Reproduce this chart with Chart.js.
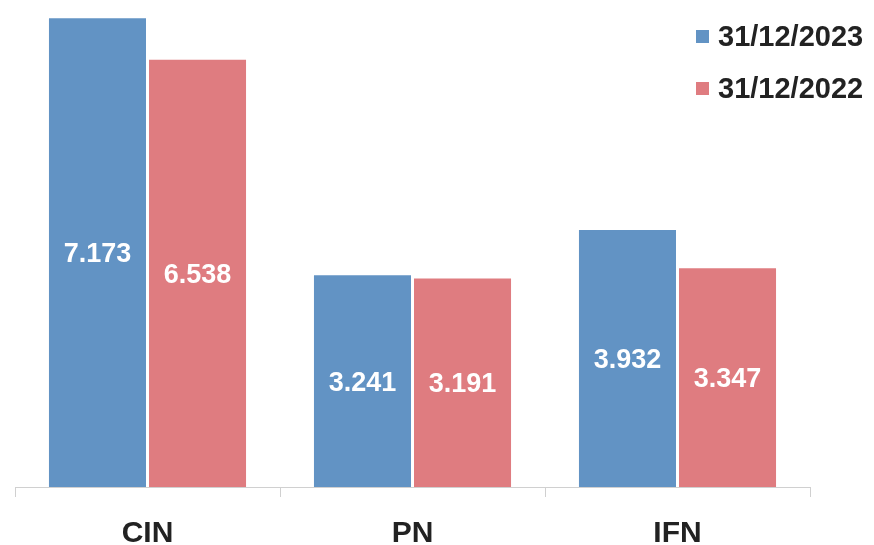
<!DOCTYPE html>
<html>
<head>
<meta charset="UTF-8">
<title>CIN PN IFN</title>
<script src="https://cdn.jsdelivr.net/npm/chart.js"></script>
<style>
  html, body { margin: 0; padding: 0; background: #fff; }
  .wrap { position: relative; width: 874px; height: 545px; }
  #legend { position: absolute; left: 696px; top: 10px; font-family: "Liberation Sans", Arial, sans-serif; font-weight: bold; font-size: 29px; color: #222; }
  #legend .item { display: flex; align-items: center; height: 52px; }
  #legend .box { width: 13px; height: 13px; margin-right: 9px; }
</style>
</head>
<body>
<div class="wrap">
  <canvas id="chart" width="874" height="545"></canvas>
  <div id="legend"></div>
</div>
<script>
const categories = ['CIN', 'PN', 'IFN'];
const seriesLabels = ['31/12/2023', '31/12/2022'];
const values2023 = [7.173, 3.241, 3.932];
const values2022 = [6.538, 3.191, 3.347];
const colors = ['#6293c4', '#df7c80'];

// white value labels in the middle of each bar
const midLabels = {
  id: 'midLabels',
  afterDatasetsDraw(chart) {
    const ctx = chart.ctx;
    ctx.save();
    ctx.fillStyle = '#fff';
    ctx.font = 'bold 27px "Liberation Sans", Arial, sans-serif';
    ctx.textAlign = 'center';
    ctx.textBaseline = 'middle';
    chart.data.datasets.forEach((ds, i) => {
      chart.getDatasetMeta(i).data.forEach((bar, j) => {
        ctx.fillText(ds.data[j].toFixed(3), bar.x, (bar.y + bar.base) / 2 + 2);
      });
    });
    ctx.restore();
  }
};

const chart = new Chart(document.getElementById('chart'), {
  type: 'bar',
  data: {
    labels: categories,
    datasets: [
      { label: seriesLabels[0], data: values2023, backgroundColor: colors[0] },
      { label: seriesLabels[1], data: values2022, backgroundColor: colors[1] }
    ]
  },
  options: {
    responsive: false,
    animation: false,
    categoryPercentage: 0.755,
    barPercentage: 0.97,
    layout: { padding: { left: 15, right: 64, top: 10, bottom: 2 } },
    plugins: { legend: { display: false }, tooltip: { enabled: false } },
    scales: {
      x: {
        afterFit(scale) { scale.height = 56; },
        grid: { drawOnChartArea: false, drawTicks: true, tickLength: 10, color: '#d0d0d0' },
        border: { color: '#d0d0d0' },
        ticks: { padding: 19, color: '#222', font: { family: '"Liberation Sans", Arial, sans-serif', weight: 'bold', size: 30 } }
      },
      y: { display: false, min: 0, max: 7.3 }
    }
  },
  plugins: [midLabels]
});

document.getElementById('legend').innerHTML = chart.data.datasets.map(ds =>
  `<div class="item"><span class="box" style="background:${ds.backgroundColor}"></span>${ds.label}</div>`
).join('');
</script>
</body>
</html>
